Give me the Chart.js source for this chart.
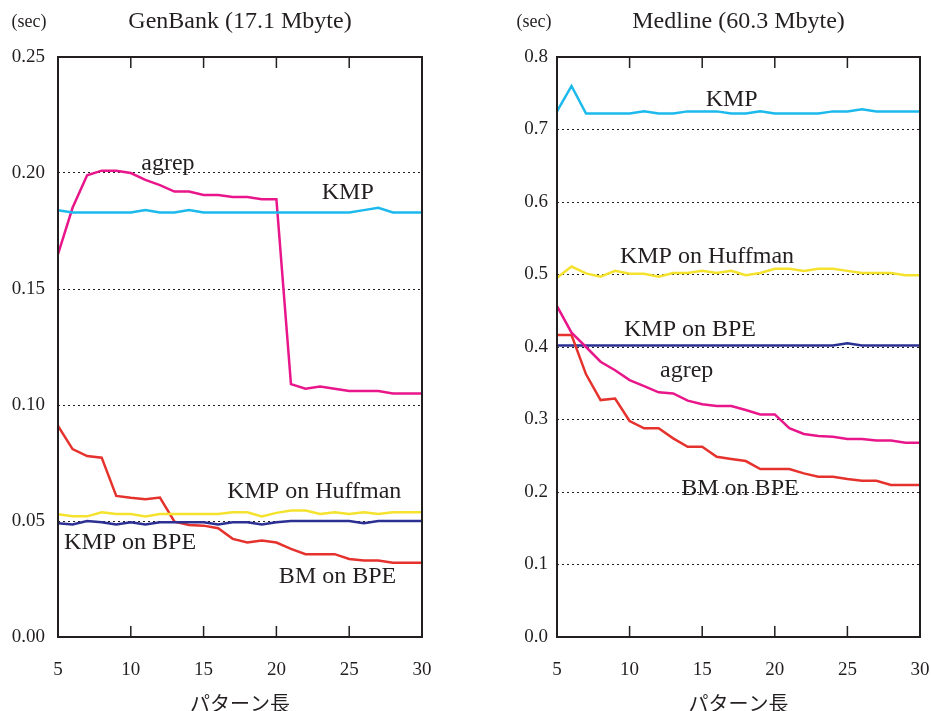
<!DOCTYPE html>
<html>
<head>
<meta charset="utf-8">
<script src="https://cdn.jsdelivr.net/npm/chart.js@4.4.1/dist/chart.umd.min.js"></script>
<style>
    html, body {margin: 0; padding: 0; background: #fff;}
    #wrap {position: relative; width: 931px; height: 711px; background: #fff;}
    canvas {position: absolute; top: 0;}
    #genbank {left: 0;}
    #medline {left: 465px;}
</style>
</head>
<body>
<div id="wrap">
    <canvas id="genbank" width="465" height="711"></canvas>
    <canvas id="medline" width="466" height="711"></canvas>
</div>
<script>
const patternLengths = [5, 6, 7, 8, 9, 10, 11, 12, 13, 14, 15, 16, 17, 18, 19, 20, 21, 22, 23, 24, 25, 26, 27, 28, 29, 30];
const xTicks = [5, 10, 15, 20, 25, 30];
const xTitle = 'パターン長';

// GenBank (17.1 Mbyte), sec
const genKmp = [0.184, 0.183, 0.183, 0.183, 0.183, 0.183, 0.184, 0.183, 0.183, 0.184, 0.183, 0.183, 0.183,
    0.183, 0.183, 0.183, 0.183, 0.183, 0.183, 0.183, 0.183, 0.184, 0.185, 0.183, 0.183, 0.183];
const genAgrep = [0.165, 0.185, 0.199, 0.201, 0.201, 0.200, 0.197, 0.1948, 0.192, 0.192, 0.1905, 0.1905, 0.1897,
    0.1897, 0.1887, 0.1887, 0.109, 0.107, 0.108, 0.107, 0.106, 0.106, 0.106, 0.105, 0.105, 0.105];
const genBmBpe = [0.091, 0.081, 0.078, 0.0773, 0.0608, 0.060, 0.0594, 0.0601, 0.0497, 0.0483, 0.048, 0.0469, 0.0423,
    0.0407, 0.0416, 0.0407, 0.038, 0.0357, 0.0357, 0.0357, 0.0336, 0.033, 0.033, 0.032, 0.032, 0.032];
const genKmpHuff = [0.0529, 0.052, 0.052, 0.0538, 0.053, 0.053, 0.052, 0.053, 0.053, 0.053, 0.053, 0.053, 0.0538,
    0.0538, 0.052, 0.0535, 0.0545, 0.0545, 0.053, 0.0538, 0.053, 0.0538, 0.053, 0.0538, 0.0538, 0.0538];
const genKmpBpe = [0.049, 0.0485, 0.050, 0.0495, 0.0485, 0.0495, 0.0485, 0.0495, 0.0495, 0.0495, 0.0495, 0.0485, 0.0495,
    0.0495, 0.0485, 0.0495, 0.050, 0.050, 0.050, 0.050, 0.050, 0.049, 0.050, 0.050, 0.050, 0.050];

// Medline (60.3 Mbyte), sec
const medKmp = [0.725, 0.760, 0.722, 0.722, 0.722, 0.722, 0.725, 0.722, 0.722, 0.725, 0.725, 0.725, 0.722,
    0.722, 0.725, 0.722, 0.722, 0.722, 0.722, 0.725, 0.725, 0.728, 0.725, 0.725, 0.725, 0.725];
const medKmpHuff = [0.4955, 0.511, 0.5015, 0.497, 0.505, 0.501, 0.501, 0.497, 0.502, 0.502, 0.505, 0.502, 0.505,
    0.499, 0.502, 0.508, 0.508, 0.505, 0.508, 0.508, 0.505, 0.502, 0.502, 0.502, 0.499, 0.499];
const medKmpBpe = [0.402, 0.402, 0.402, 0.402, 0.402, 0.402, 0.402, 0.402, 0.402, 0.402, 0.402, 0.402, 0.402,
    0.402, 0.402, 0.402, 0.402, 0.402, 0.402, 0.402, 0.405, 0.402, 0.402, 0.402, 0.402, 0.402];
const medAgrep = [0.4565, 0.4197, 0.400, 0.3797, 0.368, 0.3544, 0.346, 0.3375, 0.336, 0.326, 0.321, 0.3186, 0.3186,
    0.313, 0.307, 0.307, 0.288, 0.280, 0.2772, 0.2763, 0.2731, 0.2731, 0.271, 0.271, 0.268, 0.268];
const medBmBpe = [0.4165, 0.4165, 0.3623, 0.3268, 0.329, 0.2979, 0.2878, 0.2878, 0.274, 0.2624, 0.2624, 0.2486, 0.2455,
    0.2427, 0.2317, 0.2317, 0.2317, 0.2257, 0.2211, 0.2211, 0.218, 0.2155, 0.2155, 0.2096, 0.2096, 0.2096];

const ink = '#231f20';
const serif = '"Liberation Serif", "Times New Roman", serif';
const colors = {kmp: '#1cb9ec', agrep: '#e8168a', bm: '#e5322d', huff: '#f5e22e', bpe: '#2b3092'};

const toPoints = values => values.map((y, i) => ({x: patternLengths[i], y}));

const line = (label, values, color) => ({
    label,
    data: toPoints(values),
    borderColor: color,
    borderWidth: 2.5,
    pointRadius: 0,
    tension: 0,
    fill: false
});

// frame, inward ticks and all the texts
const framePlugin = {
    id: 'frame',
    afterDatasetsDraw(chart, args, opts) {
        const {ctx, chartArea: a, scales: {x, y}} = chart;
        const cx = (a.left + a.right) / 2;

        ctx.save();
        ctx.strokeStyle = ink;
        ctx.lineWidth = 2;
        ctx.strokeRect(a.left, a.top, a.right - a.left, a.bottom - a.top);

        ctx.lineWidth = 1.5;
        xTicks.filter(v => v > x.min && v < x.max).forEach(v => {
            const px = x.getPixelForValue(v);
            ctx.beginPath();
            ctx.moveTo(px, a.bottom);
            ctx.lineTo(px, a.bottom - 11);
            ctx.moveTo(px, a.top);
            ctx.lineTo(px, a.top + 11);
            ctx.stroke();
        });

        ctx.fillStyle = ink;
        ctx.textAlign = 'center';
        ctx.textBaseline = 'middle';
        ctx.font = '24px ' + serif;
        ctx.fillText(opts.title, cx, a.top - 35);
        ctx.font = '18px ' + serif;
        ctx.fillText('(sec)', a.left - opts.secOffset, a.top - 35);
        ctx.font = '20px "Noto Sans CJK JP", sans-serif';
        ctx.fillText(xTitle, cx, a.bottom + 66);

        ctx.font = '24px ' + serif;
        opts.labels.forEach(l => ctx.fillText(l.text, x.getPixelForValue(l.x), y.getPixelForValue(l.y)));
        ctx.restore();
    }
};

const makeChart = (id, datasets, yMax, yStep, digits, axisWidth, tickPad, padRight, frame) => new Chart(document.getElementById(id), {
    type: 'line',
    data: {datasets},
    options: {
        responsive: false,
        animation: false,
        layout: {padding: {top: 57, right: padRight, left: 0, bottom: 0}},
        plugins: {legend: {display: false}, tooltip: {enabled: false}, frame},
        scales: {
            x: {
                type: 'linear',
                min: 5,
                max: 30,
                afterBuildTicks: scale => { scale.ticks = xTicks.map(value => ({value})); },
                afterFit: scale => {
                    scale.height = 74;
                    scale.paddingLeft = 0;
                    scale.paddingRight = 0;
                },
                grid: {display: false, drawTicks: false},
                border: {display: false},
                ticks: {color: ink, font: {family: serif, size: 19}, padding: 22, maxRotation: 0, autoSkip: false}
            },
            y: {
                min: 0,
                max: yMax,
                afterFit: scale => { scale.width = axisWidth; },
                grid: {color: ink, lineWidth: 1, drawTicks: false},
                border: {display: false, dash: [2, 3]},
                ticks: {
                    stepSize: yStep,
                    color: ink,
                    font: {family: serif, size: 19},
                    padding: tickPad,
                    callback: v => v.toFixed(digits)
                }
            }
        }
    },
    plugins: [framePlugin]
});

makeChart('genbank', [
    line('KMP', genKmp, colors.kmp),
    line('agrep', genAgrep, colors.agrep),
    line('KMP on Huffman', genKmpHuff, colors.huff),
    line('KMP on BPE', genKmpBpe, colors.bpe),
    line('BM on BPE', genBmBpe, colors.bm)
], 0.25, 0.05, 2, 58, 13, 43, {
    title: 'GenBank (17.1 Mbyte)',
    secOffset: 29,
    labels: [
        {text: 'agrep', x: 12.55, y: 0.2039},
        {text: 'KMP', x: 24.9, y: 0.1914},
        {text: 'KMP on Huffman', x: 22.6, y: 0.0625},
        {text: 'KMP on BPE', x: 9.95, y: 0.0405},
        {text: 'BM on BPE', x: 24.2, y: 0.0259}
    ]
});

makeChart('medline', [
    line('KMP', medKmp, colors.kmp),
    line('KMP on Huffman', medKmpHuff, colors.huff),
    line('agrep', medAgrep, colors.agrep),
    line('BM on BPE', medBmBpe, colors.bm),
    line('KMP on BPE', medKmpBpe, colors.bpe)
], 0.8, 0.1, 1, 92, 9, 11, {
    title: 'Medline (60.3 Mbyte)',
    secOffset: 23,
    labels: [
        {text: 'KMP', x: 17.03, y: 0.7405},
        {text: 'KMP on Huffman', x: 15.33, y: 0.524},
        {text: 'KMP on BPE', x: 14.16, y: 0.4234},
        {text: 'agrep', x: 13.93, y: 0.367},
        {text: 'BM on BPE', x: 17.6, y: 0.204}
    ]
});
</script>
</body>
</html>
